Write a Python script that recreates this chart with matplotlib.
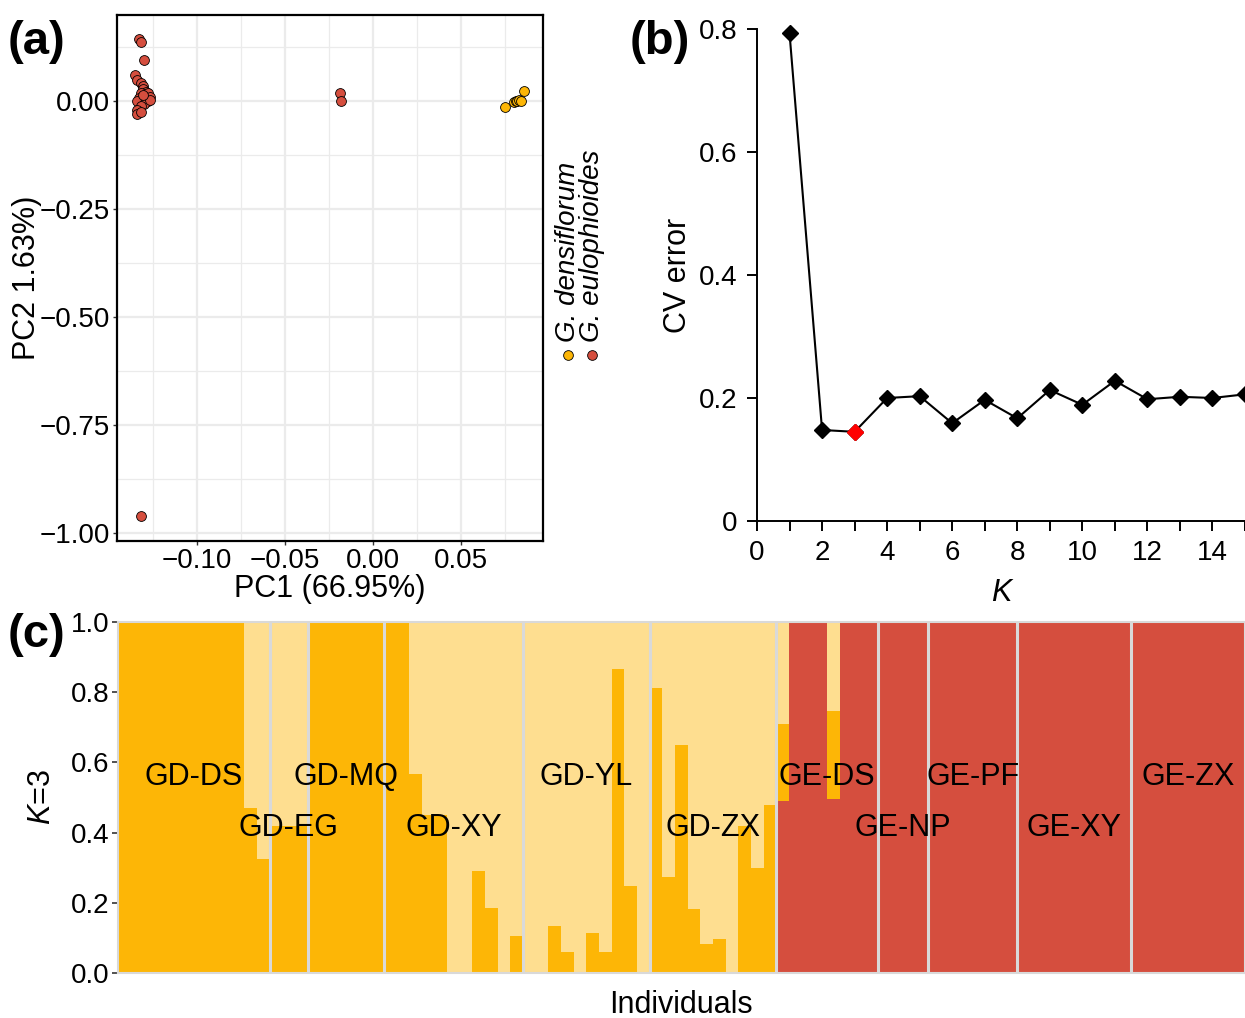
import numpy as np
import matplotlib
matplotlib.use("Agg")
import matplotlib.pyplot as plt
from matplotlib.ticker import MultipleLocator, FixedLocator, FuncFormatter

plt.rcParams['font.family'] = ['Liberation Sans', 'DejaVu Sans']
plt.rcParams['mathtext.fontset'] = 'custom'
plt.rcParams['mathtext.rm'] = 'Liberation Sans'
plt.rcParams['mathtext.it'] = 'Liberation Sans:italic'

# ---- (a) PCA ----
# G. eulophioides (red)
eulo_pc1 = [-0.133, -0.132, -0.130, -0.135, -0.134, -0.132, -0.131, -0.131, -0.129, -0.132,
            -0.128, -0.127, -0.133, -0.130, -0.128, -0.131, -0.134, -0.130, -0.127, -0.132,
            -0.134, -0.134, -0.132, -0.131, -0.132, -0.019, -0.018]
eulo_pc2 = [0.144, 0.137, 0.095, 0.060, 0.049, 0.042, 0.035, 0.028, 0.021, 0.019,
            0.019, 0.009, 0.007, 0.005, 0.000, -0.002, 0.000, -0.007, 0.002, -0.012,
            -0.021, -0.030, -0.026, 0.014, -0.961, 0.019, 0.000]
# G. densiflorum (yellow)
dens_pc1 = [0.075, 0.080, 0.081, 0.082, 0.083, 0.084, 0.086]
dens_pc2 = [-0.014, -0.002, 0.000, 0.000, 0.002, 0.000, 0.023]

# ---- (b) CV error ----
k_values = [1, 2, 3, 4, 5, 6, 7, 8, 9, 10, 11, 12, 13, 14, 15]
cv_error = [0.793, 0.148, 0.145, 0.200, 0.203, 0.159, 0.197, 0.167, 0.213, 0.189,
            0.228, 0.198, 0.202, 0.200, 0.206]

# ---- (c) ADMIXTURE K=3 ----
pops = ["GD-DS", "GD-EG", "GD-MQ", "GD-XY", "GD-YL", "GD-ZX",
        "GE-DS", "GE-NP", "GE-PF", "GE-XY", "GE-ZX"]
pop_sizes = [12, 3, 6, 11, 10, 10, 8, 4, 7, 9, 9]
q_orange = [1.0, 1.0, 1.0, 1.0, 1.0, 1.0, 1.0, 1.0, 1.0, 1.0, 0.47, 0.325,
            0.42, 0.42, 0.42,
            1.0, 1.0, 1.0, 1.0, 1.0, 1.0,
            1.0, 1.0, 0.567, 0.45, 0.45, 0.0, 0.0, 0.29, 0.186, 0.0, 0.105,
            0.0, 0.0, 0.134, 0.059, 0.0, 0.113, 0.061, 0.866, 0.248, 0.0,
            0.813, 0.274, 0.65, 0.182, 0.082, 0.097, 0.0, 0.42, 0.298, 0.48,
            0.218, 0.0, 0.0, 0.0, 0.25, 0.0, 0.0, 0.0,
            0.0, 0.0, 0.0, 0.0,
            0.0, 0.0, 0.0, 0.0, 0.0, 0.0, 0.0,
            0.0, 0.0, 0.0, 0.0, 0.0, 0.0, 0.0, 0.0, 0.0,
            0.0, 0.0, 0.0, 0.0, 0.0, 0.0, 0.0, 0.0, 0.0]
q_red = [0.0, 0.0, 0.0, 0.0, 0.0, 0.0, 0.0, 0.0, 0.0, 0.0, 0.0, 0.0,
         0.0, 0.0, 0.0,
         0.0, 0.0, 0.0, 0.0, 0.0, 0.0,
         0.0, 0.0, 0.0, 0.0, 0.0, 0.0, 0.0, 0.0, 0.0, 0.0, 0.0,
         0.0, 0.0, 0.0, 0.0, 0.0, 0.0, 0.0, 0.0, 0.0, 0.0,
         0.0, 0.0, 0.0, 0.0, 0.0, 0.0, 0.0, 0.0, 0.0, 0.0,
         0.49, 1.0, 1.0, 1.0, 0.496, 1.0, 1.0, 1.0,
         1.0, 1.0, 1.0, 1.0,
         1.0, 1.0, 1.0, 1.0, 1.0, 1.0, 1.0,
         1.0, 1.0, 1.0, 1.0, 1.0, 1.0, 1.0, 1.0, 1.0,
         1.0, 1.0, 1.0, 1.0, 1.0, 1.0, 1.0, 1.0, 1.0]

ORANGE = "#FDB606"
LIGHT = "#FEDE90"
RED = "#D54E3E"

W, H = 1245, 1018
fig = plt.figure(figsize=(W / 100, H / 100), dpi=100)

def box(l, t, r, b):
    return [l / W, 1 - b / H, (r - l) / W, (b - t) / H]

TICK = 20
TITLE = 22

# panel a
ax_a = fig.add_axes(box(117, 15, 543, 541))
ax_a.set_xlim(-0.1455, 0.0966)
ax_a.set_ylim(-1.0185, 0.199)
ax_a.xaxis.set_major_locator(FixedLocator([-0.10, -0.05, 0.00, 0.05]))
ax_a.xaxis.set_minor_locator(FixedLocator([-0.125, -0.075, -0.025, 0.025, 0.075]))
ax_a.yaxis.set_major_locator(FixedLocator([0.0, -0.25, -0.50, -0.75, -1.00]))
ax_a.yaxis.set_minor_locator(FixedLocator([0.125, -0.125, -0.375, -0.625, -0.875]))
ax_a.xaxis.set_major_formatter(FuncFormatter(lambda v, p: f"{v:.2f}".replace("-", "\u2212")))
ax_a.yaxis.set_major_formatter(FuncFormatter(lambda v, p: f"{v:.2f}".replace("-", "\u2212")))
ax_a.grid(True, which='major', color='#EBEBEB', lw=1.6)
ax_a.grid(True, which='minor', color='#EBEBEB', lw=0.9)
ax_a.set_axisbelow(True)
ax_a.tick_params(which='major', labelsize=TICK, length=3, width=1, color='#333333', pad=2)
ax_a.tick_params(which='minor', length=0)
for s in ax_a.spines.values():
    s.set_linewidth(1.6)
ax_a.scatter(eulo_pc1, eulo_pc2, s=50, c=RED, edgecolors='black', linewidths=0.6, zorder=3)
ax_a.scatter(dens_pc1, dens_pc2, s=50, c=ORANGE, edgecolors='black', linewidths=0.6, zorder=3)
ax_a.set_xlabel("PC1 (66.95%)", fontsize=TITLE, labelpad=0)
ax_a.set_ylabel("PC2 1.63%)", fontsize=TITLE, labelpad=-2)

# rotated legend
for xp, col, name in [(568, ORANGE, "G. densiflorum"), (592, RED, "G. eulophioides")]:
    fig.add_artist(plt.Line2D([xp / W], [1 - 355 / H], marker='o', ms=7, mfc=col,
                              mec='black', mew=0.6, transform=fig.transFigure))
    fig.text(xp / W, 1 - 342 / H, name, rotation=90, ha='center', va='bottom',
             fontsize=20, style='italic')

# panel b
ax_b = fig.add_axes(box(757, 29, 1245, 521))
ax_b.set_xlim(0, 15)
ax_b.set_ylim(0, 0.8)
ax_b.plot(k_values, cv_error, color='black', lw=1.5, marker='D', ms=8.5, clip_on=False, zorder=3)
best = int(np.argmin(cv_error))
ax_b.plot(k_values[best], cv_error[best], marker='D', ms=8.5, color='red', ls='none',
          clip_on=False, zorder=4)
ax_b.spines['top'].set_visible(False)
ax_b.spines['right'].set_visible(False)
for s in ['left', 'bottom']:
    ax_b.spines[s].set_linewidth(1.4)
ax_b.xaxis.set_major_locator(MultipleLocator(2))
ax_b.xaxis.set_minor_locator(MultipleLocator(1))
ax_b.yaxis.set_major_locator(FixedLocator([0, 0.2, 0.4, 0.6, 0.8]))
ax_b.yaxis.set_major_formatter(FuncFormatter(lambda v, p: "0" if v == 0 else f"{v:.1f}"))
ax_b.tick_params(which='both', direction='out', length=7, width=1.4, labelsize=TICK, pad=7)
ax_b.set_xlabel("K", fontsize=TITLE, style='italic', labelpad=8)
ax_b.set_ylabel("CV error", fontsize=TITLE, labelpad=4)

# panel c
ax_c = fig.add_axes(box(117.7, 622, 1245, 973))
n = len(q_orange)
xs = np.arange(1, n + 1)
q_red_a = np.array(q_red)
q_orange_a = np.array(q_orange)
q_light_a = 1 - q_red_a - q_orange_a
ax_c.bar(xs, q_red_a, width=1.0, color=RED, linewidth=0)
ax_c.bar(xs, q_orange_a, width=1.0, bottom=q_red_a, color=ORANGE, linewidth=0)
ax_c.bar(xs, q_light_a, width=1.0, bottom=q_red_a + q_orange_a, color=LIGHT, linewidth=0)
ax_c.set_xlim(0.5, n + 0.5)
ax_c.set_ylim(0, 1)
edges = np.cumsum(pop_sizes)
for e in edges[:-1]:
    ax_c.axvline(e + 0.5, color='#D9D9D9', lw=2.2)
starts = edges - np.array(pop_sizes)
for i, (p, st, sz) in enumerate(zip(pops, starts, pop_sizes)):
    yy = 0.558 if i % 2 == 0 else 0.413
    ax_c.text(st + sz / 2 + 0.5, yy, p, ha='center', va='center', fontsize=22)
for s in ax_c.spines.values():
    s.set_color('#D9D9D9')
    s.set_linewidth(1.5)
ax_c.set_xticks([])
ax_c.yaxis.set_major_locator(FixedLocator([0, 0.2, 0.4, 0.6, 0.8, 1.0]))
ax_c.yaxis.set_major_formatter(FuncFormatter(lambda v, p: f"{v:.1f}"))
ax_c.tick_params(axis='y', length=4, width=1.2, color='#333333', labelsize=TICK, pad=2)
ax_c.set_ylabel("$K$=3", fontsize=TITLE, labelpad=10)
ax_c.set_xlabel("Individuals", fontsize=TITLE, labelpad=12)

# panel letters
fig.text(8 / W, 1 - 42 / H, "(a)", fontsize=34, weight='bold', va='center')
fig.text(630 / W, 1 - 42 / H, "(b)", fontsize=34, weight='bold', va='center')
fig.text(8 / W, 1 - 635 / H, "(c)", fontsize=34, weight='bold', va='center')

fig.savefig("out.png", dpi=100)
